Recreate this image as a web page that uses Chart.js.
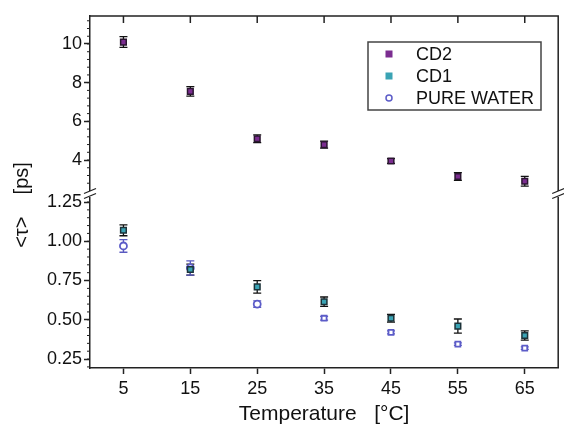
<!DOCTYPE html>
<html>
<head>
<meta charset="utf-8">
<script src="https://cdn.jsdelivr.net/npm/chart.js@4.4.0/dist/chart.umd.min.js"></script>
<style>
 html, body { margin: 0; padding: 0; background: #fff; }
</style>
</head>
<body>
<canvas id="tauChart" width="564" height="431"></canvas>
<script>
var temps = [5, 15, 25, 35, 45, 55, 65];
var cd2 = [10.1, 7.55, 5.1, 4.8, 3.95, 3.15, 2.9];
var cd2Err = [0.28, 0.25, 0.2, 0.18, 0.12, 0.2, 0.25];
var cd1 = [1.07, 0.82, 0.71, 0.615, 0.51, 0.46, 0.4];
var cd1Err = [0.035, 0.035, 0.04, 0.03, 0.025, 0.045, 0.03];
var water = [0.97, 0.83, 0.6, 0.51, 0.42, 0.345, 0.32];
var waterErr = [0.04, 0.045, 0.02, 0.012, 0.01, 0.008, 0.008];
var waterStyles = ["circle", "circle", "circle", "rect", "rect", "rect", "rect"];

var xTicks = [5, 15, 25, 35, 45, 55, 65];
var topTicks = [4, 6, 8, 10];
var bottomTicks = [0.25, 0.5, 0.75, 1.0, 1.25];

var FONT = "'Liberation Sans', Arial, sans-serif";

function toPoints(values) {
 return temps.map(function (t, i) {
  return { x: t, y: values[i] };
 });
}

var errors = [cd2Err, cd1Err, waterErr];
var errColors = ["#111", "#111", "#5a5ac0"];

var decorPlugin = {
 id: "decor",
 beforeDatasetsDraw: function (chart) {
  var ctx = chart.ctx;
  var xs = chart.scales.x;
  ctx.save();
  ctx.lineWidth = 1.3;
  chart.data.datasets.forEach(function (ds, i) {
   var ys = chart.scales[ds.yAxisID];
   var err = errors[i];
   ctx.strokeStyle = errColors[i];
   ds.data.forEach(function (p, j) {
    var x = xs.getPixelForValue(p.x);
    var y1 = ys.getPixelForValue(p.y - err[j]);
    var y2 = ys.getPixelForValue(p.y + err[j]);
    ctx.beginPath();
    ctx.moveTo(x, y1);
    ctx.lineTo(x, y2);
    ctx.moveTo(x - 4, y1);
    ctx.lineTo(x + 4, y1);
    ctx.moveTo(x - 4, y2);
    ctx.lineTo(x + 4, y2);
    ctx.stroke();
   });
  });
  ctx.restore();
 },
 afterDraw: function (chart) {
  var ctx = chart.ctx;
  var area = chart.chartArea;
  var xs = chart.scales.x;
  var yt = chart.scales.yTop;
  var yb = chart.scales.yBottom;
  ctx.save();
  ctx.strokeStyle = "#222";
  ctx.lineWidth = 1.5;

  // frame top and right
  ctx.beginPath();
  ctx.moveTo(area.left, area.top);
  ctx.lineTo(area.right, area.top);
  ctx.lineTo(area.right, area.bottom);
  ctx.stroke();

  // ticks on top edge
  xTicks.forEach(function (v) {
   var x = xs.getPixelForValue(v);
   ctx.beginPath();
   ctx.moveTo(x, area.top);
   ctx.lineTo(x, area.top + 7);
   ctx.stroke();
  });

  // minor ticks
  ctx.lineWidth = 1;
  for (var v = 2.4; v < 11.4; v += 0.4) {
   var y = yt.getPixelForValue(v);
   if (y < yt.top || y > yt.bottom - 4) continue;
   ctx.beginPath();
   ctx.moveTo(area.left - 3, y);
   ctx.lineTo(area.left, y);
   ctx.stroke();
  }
  for (var w = 0.2; w < 1.3; w += 0.05) {
   var y2 = yb.getPixelForValue(w);
   if (y2 < yb.top + 4 || y2 > yb.bottom) continue;
   ctx.beginPath();
   ctx.moveTo(area.left - 3, y2);
   ctx.lineTo(area.left, y2);
   ctx.stroke();
  }

  // axis break marks
  var by = yb.top;
  [area.left, area.right].forEach(function (bx) {
   ctx.fillStyle = "#fff";
   ctx.fillRect(bx - 2, by - 3, 4, 6);
   ctx.strokeStyle = "#222";
   ctx.lineWidth = 1.3;
   ctx.beginPath();
   ctx.moveTo(bx - 6, by - 0.5);
   ctx.lineTo(bx + 6, by - 5.5);
   ctx.moveTo(bx - 6, by + 4.5);
   ctx.lineTo(bx + 6, by - 0.5);
   ctx.stroke();
  });

  // legend box
  var lx = 368, ly = 42, lw = 173, lh = 68;
  ctx.fillStyle = "#fff";
  ctx.fillRect(lx, ly, lw, lh);
  ctx.strokeStyle = "#444";
  ctx.lineWidth = 1.5;
  ctx.strokeRect(lx, ly, lw, lh);
  var names = ["CD2", "CD1", "PURE WATER"];
  var rows = [54, 76, 98];
  ctx.font = "18px " + FONT;
  ctx.textBaseline = "middle";
  chart.data.datasets.forEach(function (ds, i) {
   var mx = 389, my = rows[i];
   ctx.lineWidth = 1;
   if (i < 2) {
    ctx.fillStyle = ds.backgroundColor;
    ctx.fillRect(mx - 3.5, my - 3.5, 7, 7);
   } else {
    ctx.strokeStyle = ds.borderColor;
    ctx.lineWidth = 1.5;
    ctx.beginPath();
    ctx.arc(mx, my, 3, 0, Math.PI * 2);
    ctx.stroke();
   }
   ctx.fillStyle = "#111";
   ctx.fillText(names[i], 416, my + 1);
  });

  // y axis title
  ctx.translate(22, 205);
  ctx.rotate(-Math.PI / 2);
  ctx.textAlign = "center";
  ctx.font = "20px " + FONT;
  ctx.fillStyle = "#111";
  ctx.fillText("<\u03c4>    [ps]", 0, 0);
  ctx.restore();
 }
};

var tickFont = { family: FONT, size: 18 };

new Chart(document.getElementById("tauChart"), {
 type: "scatter",
 data: {
  datasets: [
   {
    label: "CD2",
    data: toPoints(cd2),
    yAxisID: "yTop",
    pointStyle: "rect",
    pointRadius: 4,
    backgroundColor: "#7b2d90",
    borderColor: "#2a1630",
    borderWidth: 1.5,
   },
   {
    label: "CD1",
    data: toPoints(cd1),
    yAxisID: "yBottom",
    pointStyle: "rect",
    pointRadius: 4,
    backgroundColor: "#3aa3b4",
    borderColor: "#1c3238",
    borderWidth: 1.5,
   },
   {
    label: "PURE WATER",
    data: toPoints(water),
    yAxisID: "yBottom",
    pointStyle: waterStyles,
    pointRadius: 3.5,
    backgroundColor: "#fff",
    borderColor: "#5c5cc8",
    borderWidth: 1.8,
   },
  ],
 },
 options: {
  responsive: false,
  animation: false,
  layout: { padding: { top: 16, right: 2, left: 0, bottom: 0 } },
  plugins: {
   legend: { display: false },
   tooltip: { enabled: false },
  },
  scales: {
   x: {
    type: "linear",
    min: 0,
    max: 70,
    afterBuildTicks: function (axis) {
     axis.ticks = xTicks.map(function (v) { return { value: v }; });
    },
    afterFit: function (axis) { axis.height = 63; },
    grid: { drawOnChartArea: false, tickLength: 6, color: "#222", tickWidth: 1.5 },
    border: { color: "#222", width: 1.5 },
    ticks: { font: tickFont, color: "#111", padding: 4, maxRotation: 0 },
    title: {
     display: true,
     text: "Temperature   [\u00b0C]",
     font: { family: FONT, size: 21 },
     color: "#111",
     padding: { top: 4 },
    },
   },
   yBottom: {
    type: "linear",
    position: "left",
    stack: "y",
    stackWeight: 174,
    min: 0.193,
    max: 1.301,
    afterBuildTicks: function (axis) {
     axis.ticks = bottomTicks.map(function (v) { return { value: v }; });
    },
    afterFit: function (axis) { axis.width = 90; },
    grid: { drawOnChartArea: false, tickLength: 6, color: "#222", tickWidth: 1.5 },
    border: { color: "#222", width: 1.5 },
    ticks: {
     font: tickFont,
     color: "#111",
     padding: 2,
     callback: function (v) { return v.toFixed(2); },
    },
   },
   yTop: {
    type: "linear",
    position: "left",
    stack: "y",
    stackWeight: 178,
    min: 2.243,
    max: 11.447,
    afterBuildTicks: function (axis) {
     axis.ticks = topTicks.map(function (v) { return { value: v }; });
    },
    afterFit: function (axis) { axis.width = 90; },
    grid: { drawOnChartArea: false, tickLength: 6, color: "#222", tickWidth: 1.5 },
    border: { color: "#222", width: 1.5 },
    ticks: { font: tickFont, color: "#111", padding: 2 },
   },
  },
 },
 plugins: [decorPlugin],
});
</script>
</body>
</html>
